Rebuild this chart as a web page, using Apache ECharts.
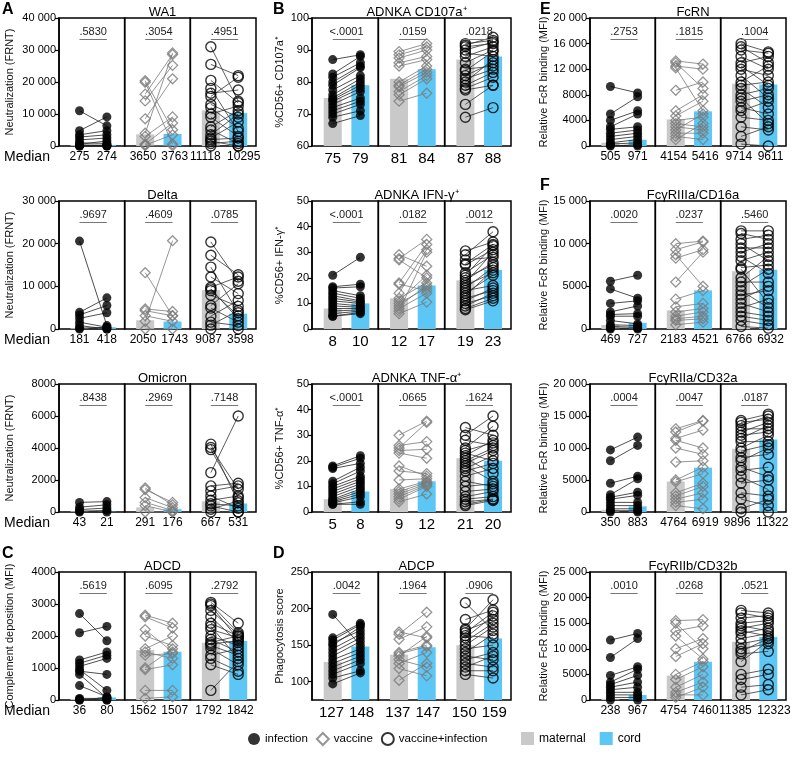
<!DOCTYPE html>
<html><head><meta charset="utf-8">
<script src="https://cdn.jsdelivr.net/npm/echarts@6/dist/echarts.min.js"></script>
<style>html,body{margin:0;padding:0;background:#fff}#c{width:797px;height:759px}</style>
</head><body><div id="c"></div>
<script>
// ---------- DATA ----------
// Each group: pairs of [maternal, cord] values
const wa1Inf = [[11000,6300],[4800,9100],[3500,4800],[2800,3500],[1900,2500],[1000,800],[500,1600],[300,100],[200,300],[100,0],[0,200],[0,0]];
const wa1Vac = [[20400,5100],[19900,600],[16200,28600],[14100,25200],[8500,21000],[4000,29100],[3000,9100],[600,7200],[300,3500],[100,100]];
const wa1VI = [[31000,14000],[25500,22000],[20500,13500],[18000,4500],[16500,17500],[15500,21500],[13000,9000],[12000,5500],[10000,12500],[9000,3000],[6000,11000],[5000,800],[3500,10000],[2500,7500],[2000,2500],[1500,0],[800,1500],[0,0]];
const wa1Median = [[275,274],[3650,3763],[11118,10295]];
const wa1P = ['.5830','.3054','.4951'];
const wa1Ticks = [0,10000,20000,30000,40000];

const deltaInf = [[20600,800],[3900,7300],[3300,5500],[2500,3800],[1600,400],[800,0],[200,400],[0,0]];
const deltaVac = [[13200,3100],[4700,4100],[4300,3100],[3100,1800],[1800,20700],[0,0]];
const deltaVI = [[20400,11200],[17300,12700],[14500,3800],[12200,8300],[9800,12200],[9400,2400],[7900,5300],[5500,10600],[4900,1600],[1600,800],[900,4300],[0,0],[9000,3100],[3000,6700]];
const deltaMedian = [[181,418],[2050,1743],[9087,3598]];
const deltaP = ['.9697','.4609','.0785'];
const deltaTicks = [0,10000,20000,30000];

const omiInf = [[600,650],[300,450],[150,250],[50,100],[0,0]];
const omiVac = [[1500,450],[1400,600],[900,270],[600,100],[400,0],[0,0]];
const omiVI = [[4240,580],[4030,1420],[3900,900],[2460,6000],[1630,1800],[1320,1630],[1000,230],[730,1000],[520,380],[380,0],[170,700],[0,0]];
const omiMedian = [[43,21],[291,176],[667,531]];
const omiP = ['.8438','.2969','.7148'];
const omiTicks = [0,2000,4000,6000,8000];

const adcdInf = [[2700,1850],[2100,2300],[1250,1500],[1150,1400],[1050,1300],[950,300],[900,800],[800,60],[450,100],[50,50],[30,0],[0,80],[0,0]];
const adcdVac = [[2650,2400],[2600,2250],[2200,1500],[2000,1700],[1600,2000],[1500,1300],[1400,1450],[1000,1600],[950,1100],[300,300],[50,100]];
const adcdVI = [[3050,2400],[3000,2100],[2950,1900],[2800,2050],[2600,1800],[2400,2000],[2300,1300],[2200,1950],[2000,1700],[1900,1500],[1800,2000],[1750,1850],[1700,1400],[1600,1100],[1400,1600],[1300,900],[1100,800],[300,1200]];
const adcdMedian = [[36,80],[1562,1507],[1792,1842]];
const adcdP = ['.5619','.6095','.2792'];
const adcdTicks = [0,1000,2000,3000,4000];

const cd107Inf = [[87,88.5],[82.5,88],[81.5,86],[80,85],[79,84.5],[77.5,82],[76,81],[75,80],[74.5,79],[74,78],[73,77],[72,75],[71,74],[70,73],[69,71],[67,69.5]];
const cd107Vac = [[89.5,92],[88.5,91],[87.5,90],[86,88],[85,87],[80,85],[79,84],[78.5,83],[77,82],[76,81],[74,76.5]];
const cd107VI = [[92,93],[91.5,94],[91,92],[90,92.5],[89,88],[88,91],[86,90],[84,85],[83.5,89.5],[82,86],[81,84],[80,87],[79,83],[78,81.5],[77.5,79],[73,79],[69,72]];
const cd107Median = [[75,79],[81,84],[87,88]];
const cd107P = ['<.0001','.0159','.0218'];
const cd107Ticks = [60,70,80,90,100];

const ifnInf = [[21,28],[16.5,17.5],[16,16.5],[15,13],[14,12],[13,11],[12,10.5],[11,10],[10,9],[9,8.5],[8,8],[7,7.5],[6,7],[5,6.5],[5,6]];
const ifnVac = [[29,24.5],[27.5,35],[27,20],[18,33],[17.5,15],[14,31],[12,18],[11,21],[10,16],[9,17],[8,14],[7,30],[6,10.5]];
const ifnVI = [[30.5,34],[29,38],[27,28],[25.5,33],[25,31],[22,29],[21,32.5],[20,25],[19,26],[18,30],[17,22],[16,24],[15,17],[14,21],[13,23],[12,15],[11,16],[10,13],[9,14],[8,12],[7.5,11]];
const ifnMedian = [[8,10],[12,17],[19,23]];
const ifnP = ['<.0001','.0182','.0012'];
const ifnTicks = [0,10,20,30,40,50];

const tnfInf = [[18,22],[17.5,21],[17,19],[12,17.5],[11,16],[10,14],[9,13],[8,12],[7,11],[6,10],[5,9],[4.5,8],[4,7],[3.5,6],[3,4],[3,3]];
const tnfVac = [[30,35.5],[26,27.5],[25,35],[24,24.5],[23,21],[18,14],[16,15],[12.5,13],[9,12],[8,11.5],[7,11],[6,10.5],[5,10],[4,7]];
const tnfVI = [[33,30],[30,37.5],[28,26],[25,33.5],[24,27],[23,20],[22,28],[21,15],[20,25],[19,24],[18,12],[17,22],[16,19],[14,17],[12,10],[10,11],[8,9],[6,8],[5,6],[4,5],[3,5],[2.5,4.5]];
const tnfMedian = [[5,8],[9,12],[21,20]];
const tnfP = ['<.0001','.0665','.1624'];
const tnfTicks = [0,10,20,30,40,50];

const adcpInf = [[192,150],[160,180],[157,178],[153,170],[150,175],[145,165],[140,160],[135,155],[130,145],[125,140],[120,135],[115,130],[110,125],[105,115],[97,112]];
const adcpVac = [[168,160],[165,195],[158,175],[140,150],[138,148],[135,162],[130,120],[125,140],[118,108],[102,125]];
const adcpVI = [[208,170],[185,198],[172,212],[170,185],[167,195],[163,160],[160,190],[155,180],[150,175],[145,150],[140,165],[135,130],[130,140],[125,120],[120,135],[115,115],[110,105]];
const adcpMedian = [[127,148],[137,147],[150,159]];
const adcpP = ['.0042','.1964','.0906'];
const adcpTicks = [100,150,200,250];

const fcrnInf = [[9300,8300],[5000,7700],[4000,5500],[3000,5000],[2600,3000],[2000,2500],[1500,2000],[1000,1500],[500,1000],[300,500],[100,0],[0,200]];
const fcrnVac = [[13300,12800],[13000,9000],[12500,12000],[12200,5500],[8700,10000],[5500,8000],[4700,7000],[4000,4500],[3500,3000],[3000,2500],[2500,5000],[2000,2000],[1500,1000],[1000,3500]];
const fcrnVI = [[16000,14700],[15500,13000],[15000,14500],[14000,12000],[13000,14000],[12500,9500],[12000,11000],[11000,7500],[10000,12500],[9500,10000],[9000,6000],[8000,9000],[7500,3500],[7000,8000],[6000,5000],[5500,7000],[4500,4000],[3000,2500],[1500,3000],[300,0]];
const fcrnMedian = [[505,971],[4154,5416],[9714,9611]];
const fcrnP = ['.2753','.1815','.1004'];
const fcrnTicks = [0,4000,8000,12000,16000,20000];

const cd16Inf = [[5600,6300],[4700,3600],[3000,3300],[2000,2700],[1700,1800],[1500,1500],[1000,600],[500,400],[300,200],[100,100],[0,0]];
const cd16Vac = [[10000,10300],[9300,10200],[8700,5000],[8300,9300],[5500,9000],[3500,4500],[2600,3000],[2000,2400],[1500,2000],[1200,1500],[1000,1200],[500,800]];
const cd16VI = [[11500,11500],[11200,10500],[10500,11000],[10000,8000],[9500,9500],[9000,10000],[8500,6500],[8000,9000],[7200,7500],[7000,3000],[6000,8500],[5500,5500],[5000,7000],[4500,2500],[4000,4500],[3500,5000],[3000,2000],[2500,3500],[2000,1500],[1500,1000],[1000,500],[300,100]];
const cd16Median = [[469,727],[2183,4521],[6766,6932]];
const cd16P = ['.0020','.0237','.5460'];
const cd16Ticks = [0,5000,10000,15000];

const cd32aInf = [[9700,11700],[8000,10400],[4500,5600],[2700,5200],[2300,3100],[2000,2600],[1500,1500],[1000,1000],[500,500],[200,200],[0,0]];
const cd32aVac = [[13000,14300],[12500,14200],[11500,12800],[11200,10000],[10000,9000],[7800,8000],[5000,7000],[4700,6000],[3000,4500],[2500,4000],[2000,3000],[1500,2000],[1000,500]];
const cd32aVI = [[14300,15300],[14000,14500],[13500,15000],[13000,13000],[12500,14000],[12000,12500],[11500,13500],[11000,11000],[10000,12000],[9500,10500],[8500,9000],[8000,10000],[7000,5500],[6500,7000],[5500,3500],[4500,5000],[3000,2500],[2000,1000],[500,2000],[0,0]];
const cd32aMedian = [[350,883],[4764,6919],[9896,11322]];
const cd32aP = ['.0004','.0047','.0187'];
const cd32aTicks = [0,5000,10000,15000,20000];

const cd32bInf = [[11700,13000],[8300,12000],[4800,6500],[3500,6000],[3000,4800],[2500,3500],[2000,2500],[1500,1500],[1000,1000],[500,500],[0,0]];
const cd32bVac = [[15500,15700],[15000,10000],[13500,14500],[12500,8000],[10000,12000],[8500,11000],[5000,7500],[4000,6500],[2500,5000],[1500,3500],[500,2500],[1000,1000]];
const cd32bVI = [[17500,17000],[17000,16000],[16000,16500],[15000,15500],[14500,13500],[14000,15000],[13500,12500],[13000,14000],[12000,13000],[11000,12000],[10000,11000],[9500,12000],[9000,9500],[7500,11500],[5000,6000],[4000,5000],[2500,3000],[1000,2000]];
const cd32bMedian = [[238,967],[4754,7460],[11385,12323]];
const cd32bP = ['.0010','.0268','.0521'];
const cd32bTicks = [0,5000,10000,15000,20000,25000];

const groupNames = ['infection','vaccine','vaccine+infection'];
const barNames = ['maternal','cord'];

// ---------- LAYOUT / STYLE ----------
const rowTop = [18, 201, 384, 572];
const plotH = 128;
const colLeft = [59, 312, 590];
const colW = [197, 199, 196];
const nameGaps = [44, 27, 41];
const medFont = [12, 15, 12];
const X_MIN = -0.75, X_MAX = 1.65;
const GRAY = '#c9c9c9', BLUE = '#5cc7f4';
const FONT = 'Liberation Sans, Arial, Helvetica, sans-serif';

const panels = [
  {title:'WA1', yName:'Neutralization (FRNT)', col:0,row:0, groups:[wa1Inf,wa1Vac,wa1VI], median:wa1Median, p:wa1P, ticks:wa1Ticks},
  {title:'Delta', yName:'Neutralization (FRNT)', col:0,row:1, groups:[deltaInf,deltaVac,deltaVI], median:deltaMedian, p:deltaP, ticks:deltaTicks},
  {title:'Omicron', yName:'Neutralization (FRNT)', col:0,row:2, groups:[omiInf,omiVac,omiVI], median:omiMedian, p:omiP, ticks:omiTicks},
  {title:'ADCD', yName:'Complement deposition (MFI)', col:0,row:3, groups:[adcdInf,adcdVac,adcdVI], median:adcdMedian, p:adcdP, ticks:adcdTicks},
  {title:'ADNKA CD107a\u207A', yName:'%CD56+ CD107a\u207A', col:1,row:0, groups:[cd107Inf,cd107Vac,cd107VI], median:cd107Median, p:cd107P, ticks:cd107Ticks},
  {title:'ADNKA IFN-\u03B3\u207A', yName:'%CD56+ IFN-\u03B3\u207A', col:1,row:1, groups:[ifnInf,ifnVac,ifnVI], median:ifnMedian, p:ifnP, ticks:ifnTicks},
  {title:'ADNKA TNF-\u03B1\u207A', yName:'%CD56+ TNF-\u03B1\u207A', col:1,row:2, groups:[tnfInf,tnfVac,tnfVI], median:tnfMedian, p:tnfP, ticks:tnfTicks},
  {title:'ADCP', yName:'Phagocytosis score', col:1,row:3, groups:[adcpInf,adcpVac,adcpVI], median:adcpMedian, p:adcpP, ticks:adcpTicks, min:75},
  {title:'FcRN', yName:'Relative FcR binding (MFI)', col:2,row:0, groups:[fcrnInf,fcrnVac,fcrnVI], median:fcrnMedian, p:fcrnP, ticks:fcrnTicks},
  {title:'Fc\u03B3RIIIa/CD16a', yName:'Relative FcR binding (MFI)', col:2,row:1, groups:[cd16Inf,cd16Vac,cd16VI], median:cd16Median, p:cd16P, ticks:cd16Ticks},
  {title:'Fc\u03B3RIIa/CD32a', yName:'Relative FcR binding (MFI)', col:2,row:2, groups:[cd32aInf,cd32aVac,cd32aVI], median:cd32aMedian, p:cd32aP, ticks:cd32aTicks},
  {title:'Fc\u03B3RIIb/CD32b', yName:'Relative FcR binding (MFI)', col:2,row:3, groups:[cd32bInf,cd32bVac,cd32bVI], median:cd32bMedian, p:cd32bP, ticks:cd32bTicks}
];

const symStyles = [
  {symbol:'circle', size:9, itemStyle:{color:'#000', borderColor:'#000', borderWidth:0}, line:'#222'},
  {symbol:'diamond', size:[10,10], itemStyle:{color:'rgba(255,255,255,0)', borderColor:'#7a7a7a', borderWidth:1.3}, line:'#7a7a7a'},
  {symbol:'circle', size:10, itemStyle:{color:'rgba(255,255,255,0)', borderColor:'#000', borderWidth:1.4}, line:'#333'}
];

function fmt(v){
  if (v >= 10000) return Math.floor(v/1000) + ' ' + String(v % 1000).padStart(3,'0');
  return String(v);
}

const grids=[], xAxes=[], yAxes=[], series=[], titles=[], graphics=[];

panels.forEach(p => {
  const L = colLeft[p.col], W = colW[p.col], T = rowTop[p.row];
  const yMin = (p.min !== undefined) ? p.min : p.ticks[0];
  const yMax = p.ticks[p.ticks.length-1];
  titles.push({text:p.title, left:L + W/2, top:T - 17, textAlign:'center',
    textStyle:{fontSize:13, fontWeight:'normal', color:'#000', fontFamily:FONT}});
  for (let g=0; g<3; g++){
    const gi = grids.length;
    // spread the two median labels apart just enough so they don't collide
    const unitPx = (W/3) / (X_MAX - X_MIN);
    const digW = medFont[p.col] * 0.556;
    const need = (String(p.median[g][0]).length + String(p.median[g][1]).length) * digW / 2 + 5;
    const u = Math.max(1, need / unitPx);
    const labPos = [0.5 - u/2, 0.5 + u/2];
    grids.push({left:L + g*W/3, top:T, width:W/3, height:plotH, show:true,
      borderColor:'#000', borderWidth:1.5, backgroundColor:'rgba(0,0,0,0)', containLabel:false, outerBoundsMode:'none'});
    xAxes.push({type:'value', gridIndex:gi, min:X_MIN, max:X_MAX,
      axisLine:{show:false, onZero:false}, axisTick:{show:false}, splitLine:{show:false},
      axisLabel:{customValues:labPos, hideOverlap:false, showMinLabel:true, showMaxLabel:true,
        formatter:(v)=>String(p.median[g][v < 0.5 ? 0 : 1]), fontSize:medFont[p.col], color:'#000', margin:5, fontFamily:FONT}});
    yAxes.push({type:'value', gridIndex:gi, min:yMin, max:yMax, show:g===0,
      axisLine:{show:true, onZero:false, lineStyle:{color:'#000', width:1.5}},
      axisTick:{show:true, length:4, customValues:p.ticks, lineStyle:{color:'#000', width:1.2}},
      axisLabel:{customValues:p.ticks, formatter:fmt, fontSize:11, color:'#000', margin:3, fontFamily:FONT},
      splitLine:{show:false},
      name:g===0 ? p.yName : '', nameLocation:'middle', nameGap:nameGaps[p.col], nameRotate:90,
      nameTextStyle:{fontSize:11, color:'#111', fontFamily:FONT}});
    const pv = yMin + 0.835*(yMax - yMin);
    series.push({type:'bar', name:'maternal', xAxisIndex:gi, yAxisIndex:gi, barWidth:18, barGap:'-100%',
      data:[[0, p.median[g][0]]], itemStyle:{color:GRAY}, z:1, silent:true,
      markLine:{silent:true, symbol:['none','none'], animation:false,
        lineStyle:{color:'#777', width:1, type:'solid'},
        label:{show:true, position:'insideMiddleTop', distance:2, formatter:p.p[g], fontSize:11, color:'#222', fontFamily:FONT},
        data:[[{coord:[0, pv]}, {coord:[1, pv]}]]}});
    series.push({type:'bar', name:'cord', xAxisIndex:gi, yAxisIndex:gi, barWidth:18, barGap:'-100%',
      data:[[1, p.median[g][1]]], itemStyle:{color:BLUE}, z:1, silent:true});
    const st = symStyles[g];
    const pairs = p.groups[g];
    series.push({type:'custom', xAxisIndex:gi, yAxisIndex:gi, z:2, silent:true,
      data:pairs.map(d => [0, d[0], 1, d[1]]), encode:{x:[0,2], y:[1,3]},
      renderItem:(params, api) => {
        const a = api.coord([api.value(0), api.value(1)]);
        const b = api.coord([api.value(2), api.value(3)]);
        return {type:'line', shape:{x1:a[0], y1:a[1], x2:b[0], y2:b[1]}, style:{stroke:st.line, lineWidth:0.8}};
      }});
    series.push({type:'scatter', name:groupNames[g], xAxisIndex:gi, yAxisIndex:gi, z:3, silent:true,
      symbol:st.symbol, symbolSize:st.size, itemStyle:st.itemStyle,
      data:pairs.map(d => [0, d[0]]).concat(pairs.map(d => [1, d[1]]))});
  }
  if (p.col === 0) {
    graphics.push({type:'text', left:4, top:T + plotH + 4, style:{text:'Median', font:'14px ' + FONT, fill:'#000'}});
  }
});

const letters = [['A',2,2],['B',273,2],['C',2,546],['D',273,546],['E',540,2],['F',540,178]];
letters.forEach(l => graphics.push({type:'text', left:l[1], top:l[2], style:{text:l[0], font:'bold 16px ' + FONT, fill:'#000'}}));

const option = {
  animation:false,
  textStyle:{fontFamily:FONT},
  title:titles,
  grid:grids, xAxis:xAxes, yAxis:yAxes, series:series,
  graphic:graphics,
  legend:[
    {data:groupNames, left:243, top:727, itemWidth:12, itemHeight:12, itemGap:8, selectedMode:false,
      textStyle:{fontSize:11.5, color:'#000', fontFamily:FONT}},
    {data:[{name:'maternal', icon:'rect'},{name:'cord', icon:'rect'}], left:516, top:727, itemWidth:13, itemHeight:13, itemGap:14, selectedMode:false,
      textStyle:{fontSize:12, color:'#000', fontFamily:FONT}}
  ]
};
const chart = echarts.init(document.getElementById('c'));
chart.setOption(option);
</script>
</body></html>
